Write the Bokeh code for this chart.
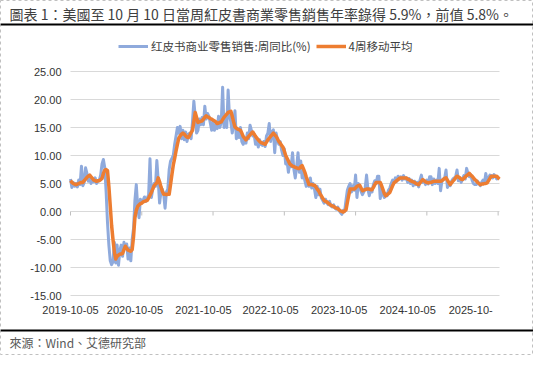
import numpy as np
from bokeh.plotting import figure
from bokeh.models import (Range1d, Legend, LegendItem, Label, BoxAnnotation, ColumnDataSource)
from bokeh.embed import file_html
from bokeh.resources import INLINE

title_text = "圖表 1：美國至 10 月 10 日當周紅皮書商業零售銷售年率錄得 5.9%，前值 5.8%。"
source_text = "來源：Wind、艾德研究部"
series_names = ["红皮书商业零售销售:周同比(%)", "4周移动平均"]
x_tick_labels = ["2019-10-05", "2020-10-05", "2021-10-05", "2022-10-05",
                 "2023-10-05", "2024-10-05", "2025-10-"]
x_label_weeks = [0, 47, 97, 146, 196, 246, 292]
x_tick_weeks = [0, 52, 104, 156, 208, 260, 312]
y_ticks = [-15, -10, -5, 0, 5, 10, 15, 20, 25]

# weekly Redbook YoY (%), from 2019-10-05
redbook_yoy = [
    5.8, 4.3, 5.2, 4.5, 5.0, 4.4, 5.6, 4.8, 8.1, 4.6, 5.2, 7.8, 6.8, 5.4,
    6.4, 5.0, 5.6, 5.3, 6.0, 5.0, 5.4, 5.6, 6.5, 8.5, 9.3, 7.8, 3.5, -2.0,
    -6.0, -8.8, -9.5, -9.0, -5.5, -9.2, -6.0, -9.6, -7.0, -6.0, -8.0, -5.5, -6.5, -5.8,
    -8.5, -6.5, -8.8, -5.0, -3.0, 2.0, 4.8, 1.0, -1.1, 2.2, 1.5, 2.0, 2.6, 1.8,
    2.4, 3.0, 9.4, 2.5, 4.0, 5.0, 4.5, 9.1, 5.5, 1.5, 3.5, 4.0, 3.0, 0.6,
    3.5, 4.0, 7.5, 9.0, 9.5, 10.0, 12.0, 13.5, 15.0, 14.0, 15.2, 13.0, 14.5, 12.8,
    14.2, 12.5, 13.8, 14.0, 13.0, 16.0, 19.7, 17.0, 14.0, 14.5, 16.5, 15.5, 16.8, 15.5,
    18.8, 16.5, 17.5, 17.0, 15.8, 14.5, 16.0, 14.5, 15.5, 14.8, 17.0, 15.0, 16.0, 22.2,
    15.0, 16.5, 15.0, 21.7, 17.0, 16.0, 14.0, 15.5, 18.0, 13.0, 14.5, 13.2, 15.0, 12.5,
    12.0, 13.0, 12.2, 14.0, 13.0, 15.4, 14.5, 13.5, 13.8, 12.0, 13.0, 11.5, 12.8, 12.0,
    11.8, 12.5, 11.6, 13.5, 14.0, 15.7, 12.5, 14.2, 14.6, 10.5, 14.0, 12.8, 12.0, 12.5,
    11.0, 10.0, 11.2, 8.5, 9.0, 7.0, 8.8, 8.0, 10.5, 7.5, 6.0, 8.0, 10.5, 7.0,
    9.0, 6.0, 7.2, 5.5, 4.5, 5.0, 4.5, 6.0, 4.2, 5.0, 4.0, 2.5, 4.5, 3.0,
    4.0, 2.4, 2.0, 1.5, 2.2, 1.6, 1.2, 1.8, 1.0, 0.8, 1.2, 0.6, 0.4, 0.8,
    0.2, -0.2, -0.5, 0.2, 0.0, 2.0, 3.8, 4.5, 5.0, 3.5, 4.6, 3.8, 6.5, 2.5,
    5.0, 4.4, 3.6, 3.0, 3.5, 4.2, 6.5, 4.0, 2.8, 4.0, 3.5, 4.8, 5.5, 5.0,
    6.3, 6.3, 2.3, 4.0, 3.0, 2.5, 3.2, 2.8, 3.8, 4.2, 5.0, 5.6, 5.2, 6.0,
    5.4, 6.3, 5.8, 6.2, 5.6, 6.4, 5.8, 6.0, 5.2, 5.9, 5.0, 5.6, 4.6, 5.4,
    4.8, 5.2, 4.4, 5.6, 6.5, 5.2, 5.5, 4.8, 5.6, 4.9, 6.2, 6.2, 4.8, 5.8,
    5.0, 5.6, 5.0, 7.7, 3.7, 5.5, 5.8, 6.0, 7.4, 4.3, 5.0, 4.6, 5.4, 5.8,
    6.0, 6.2, 7.4, 5.5, 6.0, 5.2, 5.8, 6.4, 5.8, 7.7, 6.8, 6.2, 6.6, 5.6,
    5.0, 4.8, 4.8, 5.4, 5.0, 4.6, 5.2, 5.6, 5.0, 6.8, 5.4, 6.0, 6.5, 6.4,
    6.0, 6.6, 6.2, 5.8, 6.0, 5.9,
]

# 4-week moving average (%)
ma4 = [
    5.5, 5.2, 5.0, 4.9, 4.8, 4.9, 5.0, 5.1, 5.2, 5.2, 5.5, 5.8, 6.1, 6.3,
    6.5, 6.2, 5.9, 5.6, 5.5, 5.4, 5.5, 5.5, 5.7, 5.9, 6.8, 7.4, 7.5, 7.3,
    4.5, 1.0, -2.5, -5.0, -7.2, -8.5, -8.0, -7.8, -7.6, -7.6, -7.5, -6.8, -6.2, -6.6,
    -6.9, -7.0, -7.1, -6.8, -4.5, -1.1, 0.2, 0.9, 1.2, 1.4, 1.5, 1.7, 1.8, 1.9,
    2.0, 2.4, 2.9, 3.4, 4.0, 4.6, 4.9, 5.1, 6.0, 5.3, 4.4, 3.6, 3.1, 3.1,
    3.0, 3.1, 3.1, 4.8, 6.6, 8.3, 9.5, 10.8, 12.0, 13.1, 13.5, 13.8, 14.0, 13.8,
    13.5, 13.3, 13.2, 13.6, 14.1, 14.5, 16.0, 17.7, 16.8, 15.9, 16.0, 16.1, 16.2, 16.5,
    16.8, 17.1, 16.9, 16.8, 16.6, 16.5, 16.3, 16.2, 16.0, 15.7, 15.8, 15.9, 16.0, 16.4,
    16.8, 17.1, 17.4, 17.7, 17.8, 17.9, 17.0, 16.0, 15.1, 14.9, 14.7, 14.6, 14.5, 14.0,
    13.4, 13.1, 12.8, 13.1, 13.4, 13.7, 14.0, 14.2, 13.8, 13.4, 13.1, 12.8, 12.5, 12.3,
    12.2, 12.1, 12.0, 12.4, 12.8, 13.1, 13.4, 13.7, 14.0, 13.7, 13.4, 13.0, 12.5, 12.2,
    11.8, 11.5, 10.8, 10.0, 9.5, 9.0, 8.5, 8.3, 8.1, 8.0, 7.9, 7.8, 7.7, 7.7,
    8.0, 8.2, 7.6, 7.0, 6.2, 5.5, 4.8, 4.8, 4.8, 4.7, 4.7, 4.4, 4.0, 3.7,
    3.2, 2.8, 2.4, 2.0, 1.8, 1.7, 1.5, 1.3, 1.1, 1.0, 0.9, 0.7, 0.6, 0.5,
    0.3, 0.1, 0.0, -0.1, 0.1, 0.3, 1.6, 2.9, 4.0, 4.0, 4.0, 4.0, 4.2, 4.5,
    4.6, 4.7, 4.2, 3.7, 3.8, 3.9, 4.0, 4.0, 4.0, 3.9, 3.9, 4.3, 4.8, 5.2,
    5.2, 5.2, 5.2, 4.6, 3.9, 3.2, 2.8, 3.0, 3.2, 3.4, 4.0, 4.6, 5.1, 5.3,
    5.5, 5.7, 5.9, 6.0, 6.0, 6.0, 6.0, 6.0, 5.8, 5.7, 5.5, 5.4, 5.3, 5.2,
    5.0, 4.9, 4.8, 5.1, 5.4, 5.7, 5.5, 5.3, 5.2, 5.1, 5.2, 5.2, 5.3, 5.4,
    5.4, 5.4, 5.4, 5.4, 5.4, 5.5, 5.7, 5.9, 6.0, 5.6, 5.2, 4.8, 5.1, 5.4,
    5.7, 6.0, 6.3, 6.2, 6.0, 5.8, 5.7, 5.9, 6.2, 6.4, 6.6, 6.8, 6.5, 6.3,
    6.0, 5.7, 5.5, 5.2, 5.0, 4.8, 4.9, 4.9, 5.0, 5.0, 5.1, 5.5, 5.9, 6.3,
    6.3, 6.3, 6.3, 6.3, 6.0, 5.8,
]

weeks = list(range(len(redbook_yoy)))
last_week = weeks[-1]
src = ColumnDataSource(dict(week=weeks, yoy=redbook_yoy, ma=ma4))

# ---- canvas layout (pixels, top-down) ----
W, H = 533, 355
PL, PR, PT, PB = 70, 499, 71, 295          # plotting box
kx = (PR - PL) / last_week                  # px per week
ky = (PB - PT) / (y_ticks[-1] - y_ticks[0]) # px per percentage point

p = figure(width=W, height=H, output_backend="svg", toolbar_location=None,
           x_axis_location=None, y_axis_location=None, title_location=None,
           min_border=0,
           x_range=Range1d(-PL / kx, last_week + (W - PR) / kx),
           y_range=Range1d(y_ticks[0] - (H - PB) / ky, y_ticks[-1] + PT / ky))
p.grid.visible = False
p.background_fill_color = "white"
p.border_fill_color = "white"
p.outline_line_color = "#c0c0c0"
p.outline_line_dash = "3 3"
p.outline_line_width = 1

# horizontal gridlines across the plotting box
p.segment(x0=[0] * len(y_ticks), x1=[last_week] * len(y_ticks), y0=y_ticks, y1=y_ticks,
          line_color="#d9d9d9", line_width=1)
# tick marks on the zero line
p.segment(x0=x_tick_weeks, x1=x_tick_weeks, y0=[0] * len(x_tick_weeks),
          y1=[-4 / ky] * len(x_tick_weeks), line_color="#bfbfbf", line_width=1)

# y tick labels
for v in y_ticks:
    p.add_layout(Label(x=PL - 9, x_units="screen", y=v, y_units="data",
                       text=f"{v:.2f}", text_align="right", text_baseline="middle",
                       text_font="Liberation Sans", text_font_size="11px",
                       text_color="#333333"))
# x tick labels
for w, lab in zip(x_label_weeks, x_tick_labels):
    p.add_layout(Label(x=w, x_units="data", y=H - 309, y_units="screen",
                       text=lab, text_align="center", text_baseline="middle",
                       text_font="Liberation Sans", text_font_size="11px",
                       text_color="#333333"))

r1 = p.line("week", "yoy", source=src, line_color="#8faadc", line_width=3, line_join="round")
r2 = p.line("week", "ma", source=src, line_color="#ed7d31", line_width=3.5, line_join="round")

legend = Legend(items=[LegendItem(label=series_names[0], renderers=[r1]),
                       LegendItem(label=series_names[1], renderers=[r2])],
                orientation="horizontal", location=(118, H - 54),
                label_text_font="Noto Sans CJK SC", label_text_font_size="11.5px",
                label_text_color="#404040", glyph_width=30, glyph_height=12,
                label_height=14, label_standoff=3, spacing=5, padding=2, margin=0,
                border_line_color=None, background_fill_alpha=0)
p.add_layout(legend)

# header / footer
p.add_layout(Label(x=9, y=H - 13.5, x_units="screen", y_units="screen", text=title_text,
                   text_font="Noto Sans CJK TC", text_font_size="14px",
                   text_color="#404040", text_baseline="middle"))
p.add_layout(Label(x=9, y=H - 341.5, x_units="screen", y_units="screen", text=source_text,
                   text_font="Noto Sans CJK TC", text_font_size="12px",
                   text_color="#595959", text_baseline="middle"))
for top in (23, 329):
    p.add_layout(BoxAnnotation(left=0, right=W, top=H - top, bottom=H - top - 2,
                               left_units="screen", right_units="screen",
                               top_units="screen", bottom_units="screen",
                               fill_color="black", fill_alpha=1, line_color=None))

open("out.html", "w").write(file_html(p, INLINE))
